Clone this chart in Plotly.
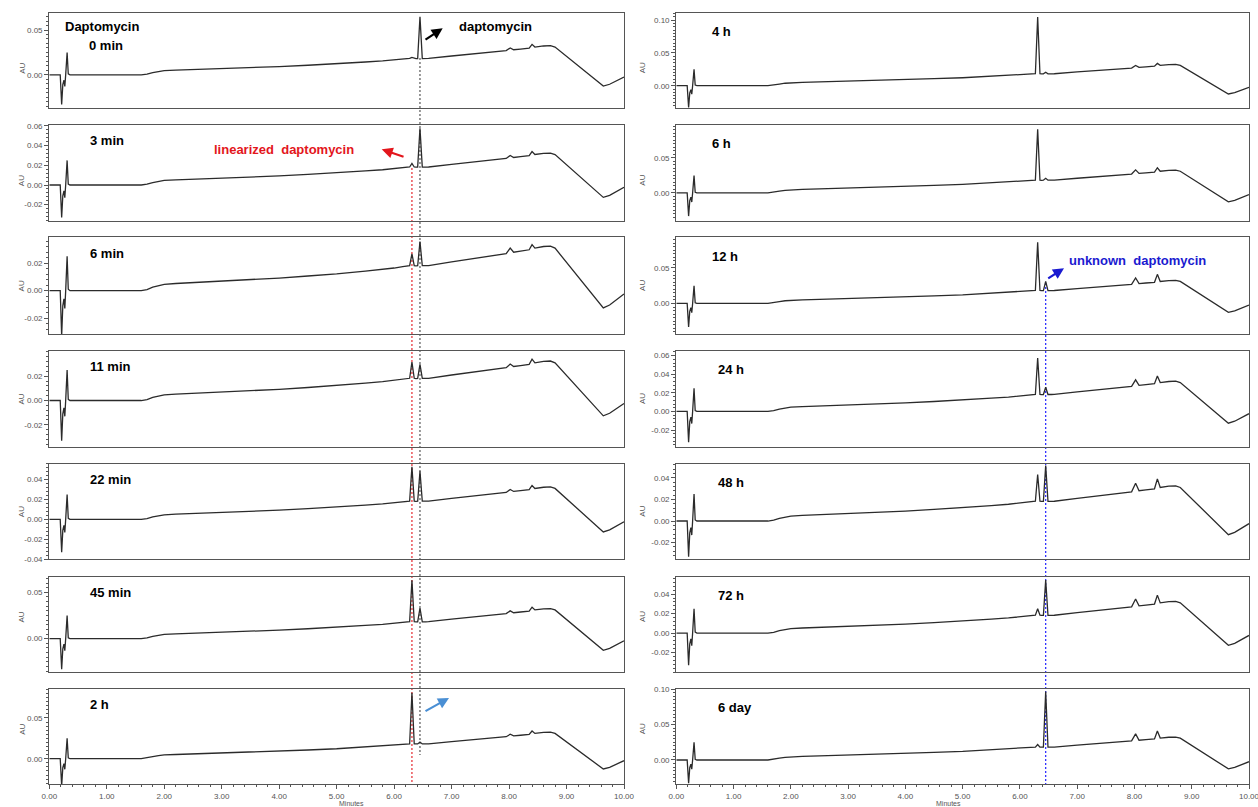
import plotly.graph_objects as go

# ---- chromatogram data (time in minutes, absorbance in AU) ----
# shared trace segments: injection disturbance, gradient drift and tail
seg_a_t = [0.00, 0.19, 0.215, 0.235, 0.255, 0.27, 0.285, 0.31, 0.33, 0.36,
           1.60, 1.70, 1.80, 1.90, 2.00, 2.20, 2.50, 3.00, 3.50, 4.00,
           4.50, 5.00, 5.50, 5.80, 6.00, 6.15, 6.23, 6.27]
seg_a_au = [0.0, 0.0, -0.033, -0.011, -0.006, -0.013, 0.0, 0.025, 0.001, 0.0,
            0.0, 0.0008, 0.0025, 0.0038, 0.0046, 0.0052, 0.0058, 0.0068, 0.0078, 0.0092,
            0.0107, 0.0122, 0.0143, 0.0155, 0.0165, 0.0175, 0.0180, 0.0183]
seg_b_t = [6.35, 6.38, 6.41]
seg_b_au = [0.0183, 0.0181, 0.0182]
seg_c_t = [6.49, 6.55, 6.60, 7.00, 7.50, 7.90, 7.95]
seg_c_au = [0.0182, 0.0182, 0.0183, 0.0210, 0.0242, 0.0266, 0.0270]
seg_d_t = [8.08, 8.20, 8.35]
seg_d_au = [0.0280, 0.0288, 0.0298]
seg_e_t = [8.45, 8.60, 8.72, 8.80, 9.00, 9.20, 9.40, 9.55, 9.64, 9.75, 9.85, 10.00]
seg_e_au = [0.0310, 0.0322, 0.0325, 0.0310, 0.0206, 0.0102, -0.0002, -0.0080,
            -0.0126, -0.0105, -0.0070, -0.0024]

LIN_T = 6.31   # linearized daptomycin
DAP_T = 6.45   # daptomycin / unknown daptomycin
B1_T = 8.02
B2_T = 8.40

panel_labels = ["0 min", "3 min", "6 min", "11 min", "22 min", "45 min", "2 h",
                "4 h", "6 h", "12 h", "24 h", "48 h", "72 h", "6 day"]
lin_apex = [0.0195, 0.0220, 0.0268, 0.0317, 0.0527, 0.0630, 0.0810,
            0.1050, 0.0910, 0.0862, 0.0574, 0.0430, 0.0250, 0.0220]
dap_apex = [0.0649, 0.0577, 0.0358, 0.0297, 0.0483, 0.0330, 0.0205,
            0.0205, 0.0210, 0.0310, 0.0260, 0.0513, 0.0545, 0.0970]
bump1_apex = [0.030, 0.030, 0.031, 0.030, 0.030, 0.030, 0.030,
              0.031, 0.033, 0.036, 0.034, 0.035, 0.035, 0.037]
bump2_apex = [0.034, 0.034, 0.0336, 0.034, 0.034, 0.034, 0.034,
              0.034, 0.036, 0.041, 0.038, 0.039, 0.039, 0.041]

y_ranges = [[-0.037, 0.069], [-0.0363, 0.061], [-0.0316, 0.0389], [-0.038, 0.041],
            [-0.040, 0.056], [-0.036, 0.067], [-0.031, 0.0855],
            [-0.034, 0.111], [-0.0396, 0.097], [-0.043, 0.0932], [-0.0379, 0.0653],
            [-0.0354, 0.0532], [-0.040, 0.058], [-0.034, 0.1005]]
y_ticks = [[0.0, 0.05], [-0.02, 0.0, 0.02, 0.04, 0.06], [-0.02, 0.0, 0.02],
           [-0.02, 0.0, 0.02], [-0.04, -0.02, 0.0, 0.02, 0.04], [0.0, 0.05], [0.0, 0.05],
           [0.0, 0.05, 0.10], [0.0, 0.05], [0.0, 0.05], [-0.02, 0.0, 0.02, 0.04, 0.06],
           [-0.02, 0.0, 0.02, 0.04], [-0.02, 0.0, 0.02, 0.04], [0.0, 0.05, 0.10]]
x_ticks = [0, 1, 2, 3, 4, 5, 6, 7, 8, 9, 10]

# ---- page layout (pixels of the 1258 x 807 page) ----
W, H = 1258, 807
col_x = [(49.3, 624.0), (676.3, 1249.0)]
row_y = [(13, 108), (125, 220.7), (237.3, 334), (350.7, 446.7),
         (463.5, 559.3), (576.6, 672), (689, 784)]

FONT = "Liberation Sans, Arial, sans-serif"
TRACE = "#2b2b2b"
FRAME = "#555555"
TICKC = "#555555"
RED = "#e3161c"
BLUE = "#1a1ad0"

fig = go.Figure()
layout = dict(width=W, height=H, margin=dict(l=0, r=0, t=0, b=0, autoexpand=False),
              autosize=False, paper_bgcolor="white", plot_bgcolor="white",
              showlegend=False)

annotations = []
for i in range(14):
    col, row = divmod(i, 7)
    n = i + 1
    xa = "x" if n == 1 else f"x{n}"
    ya = "y" if n == 1 else f"y{n}"
    t = seg_a_t + [LIN_T] + seg_b_t + [DAP_T] + seg_c_t + [B1_T] + seg_d_t + [B2_T] + seg_e_t
    au = (seg_a_au + [lin_apex[i]] + seg_b_au + [dap_apex[i]] + seg_c_au
          + [bump1_apex[i]] + seg_d_au + [bump2_apex[i]] + seg_e_au)
    fig.add_trace(go.Scatter(x=t, y=au, mode="lines", xaxis=xa, yaxis=ya,
                             line=dict(color=TRACE, width=1.3), hoverinfo="skip",
                             cliponaxis=True))

    x0, x1 = col_x[col]
    top, bot = row_y[row]
    bottom_row = row == 6
    xd = dict(domain=[x0 / W, x1 / W], range=[0, 10], anchor=ya, automargin=False,
              showline=True, mirror=True, linecolor=FRAME, linewidth=1.3,
              showgrid=False, zeroline=False, fixedrange=True)
    if bottom_row:
        xd.update(tickmode="array", tickvals=x_ticks,
                  ticktext=[f"{v:.2f}" for v in x_ticks], ticks="outside",
                  ticklen=4, tickcolor=FRAME, tickwidth=1, ticklabeloverflow="allow",
                  tickfont=dict(size=8, color=TICKC, family=FONT),
                  minor=dict(dtick=0.2, ticklen=2, tickcolor=FRAME, ticks="outside"))
    else:
        xd.update(showticklabels=False, ticks="")
    yt = y_ticks[i]
    step = yt[1] - yt[0]
    yd = dict(domain=[1 - bot / H, 1 - top / H], range=y_ranges[i], anchor=xa,
              automargin=False, showline=True, mirror=True, linecolor=FRAME,
              linewidth=1.3, showgrid=False, zeroline=False, fixedrange=True,
              tickmode="array", tickvals=yt, ticktext=[f"{v:.2f}" for v in yt],
              ticks="outside", ticklen=4, tickcolor=FRAME, tickwidth=1,
              tickfont=dict(size=8, color=TICKC, family=FONT),
              minor=dict(dtick=step / (10 if step > 0.03 else 5), ticklen=2,
                         tickcolor=FRAME, ticks="outside"))
    layout["xaxis" if n == 1 else f"xaxis{n}"] = xd
    layout["yaxis" if n == 1 else f"yaxis{n}"] = yd

    # "AU" axis title
    annotations.append(dict(text="AU", xref="paper", yref="paper",
                            x=(x0 - 34) / W, y=1 - (top + bot) / 2 / H,
                            textangle=-90, showarrow=False,
                            font=dict(size=8, color=TICKC, family=FONT)))
    # sample label
    if i == 0:
        annotations.append(dict(text="<b>Daptomycin</b>", xref=f"{xa} domain",
                                yref=f"{ya} domain", x=0.0917, y=0.853,
                                xanchor="center", yanchor="middle", showarrow=False,
                                font=dict(size=13, color="black", family=FONT)))
        annotations.append(dict(text=f"<b>{panel_labels[i]}</b>", xref=f"{xa} domain",
                                yref=f"{ya} domain", x=0.098, y=0.663,
                                xanchor="center", yanchor="middle", showarrow=False,
                                font=dict(size=13, color="black", family=FONT)))
    else:
        if col == 0:
            lx = 0.0673
        elif row < 3:
            lx = 0.058
        else:
            lx = 0.069
        annotations.append(dict(text=f"<b>{panel_labels[i]}</b>", xref=f"{xa} domain",
                                yref=f"{ya} domain", x=lx,
                                y=0.835 if col == 0 else 0.805,
                                xanchor="left", yanchor="middle", showarrow=False,
                                font=dict(size=13, color="black", family=FONT)))

# x-axis titles
for col in range(2):
    x0, x1 = col_x[col]
    annotations.append(dict(text="Minutes", xref="paper", yref="paper",
                            x=(x0 + x1) / 2 / W, y=1 - 803.5 / H, yanchor="middle",
                            showarrow=False, font=dict(size=7, color=TICKC, family=FONT)))

# peak names
annotations += [
    dict(text="<b>daptomycin</b>", xref="x domain", yref="y domain", x=0.709, y=0.856,
         xanchor="left", yanchor="middle", showarrow=False,
         font=dict(size=13, color="black", family=FONT)),
    dict(text="<b>linearized  daptomycin</b>", xref="x2 domain", yref="y2 domain",
         x=0.283, y=0.746, xanchor="left", yanchor="middle", showarrow=False,
         font=dict(size=13, color=RED, family=FONT)),
    dict(text="<b>unknown  daptomycin</b>", xref="x10 domain", yref="y10 domain",
         x=0.6817, y=0.755, xanchor="left", yanchor="middle", showarrow=False,
         font=dict(size=13, color=BLUE, family=FONT)),
]

# arrows
def arrow(xr, yr, head, tail, color):
    return dict(text="", xref=xr, yref=yr, axref=xr, ayref=yr,
                x=head[0], y=head[1], ax=tail[0], ay=tail[1], showarrow=True,
                arrowhead=2, arrowsize=1.0, arrowwidth=2.2, arrowcolor=color)

annotations += [
    arrow("x", "y", (6.845, 0.0519), (6.52, 0.0381), "black"),
    arrow("x2", "y2", (5.784, 0.0363), (6.19, 0.0282), RED),
    arrow("x7", "y7", (6.955, 0.0745), (6.52, 0.0573), "#4a8fd4"),
    arrow("x10", "y10", (6.77, 0.0496), (6.468, 0.0341), BLUE),
]

# retention-time guide lines across the panels
DOT = "2px,2px"
shapes = [
    dict(type="line", xref="x", yref="paper", x0=DAP_T, x1=DAP_T, layer="below",
         y0=1 - 58 / H, y1=1 - 755 / H, line=dict(color="#333333", width=1, dash=DOT)),
    dict(type="line", xref="x", yref="paper", x0=LIN_T, x1=LIN_T, layer="below",
         y0=1 - 168 / H, y1=1 - 784 / H, line=dict(color=RED, width=1.1, dash=DOT)),
    dict(type="line", xref="x8", yref="paper", x0=DAP_T, x1=DAP_T, layer="below",
         y0=1 - 283 / H, y1=1 - 787 / H, line=dict(color="#2020ff", width=1.2, dash=DOT)),
]

layout["annotations"] = annotations
layout["shapes"] = shapes
fig.update_layout(**layout)
fig.write_html("out.html")
